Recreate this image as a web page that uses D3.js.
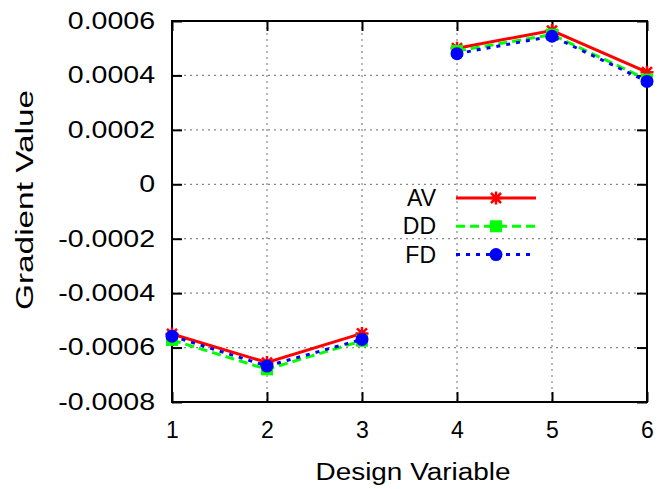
<!DOCTYPE html>
<html>
<head>
<meta charset="utf-8">
<script src="https://d3js.org/d3.v7.min.js"></script>
<style>
  body { margin: 0; background: #fff; }
  svg { display: block; font-family: "Liberation Sans", Arial, sans-serif; }
  svg text { font-family: "Liberation Sans", Arial, sans-serif; font-size: 23px; fill: #000; }
</style>
</head>
<body>
<svg id="chart" width="661" height="489"></svg>
<script>
// data (null = gap between variable 3 and 4)
var designVars = [1, 2, 3, 3.5, 4, 5, 6];
var avValues = [-0.00055, -0.000655, -0.000548, null, 0.0005, 0.000565, 0.000412];
var ddValues = [-0.000572, -0.00068, -0.000575, null, 0.00049, 0.00055, 0.000385];
var fdValues = [-0.000558, -0.000668, -0.00057, null, 0.00048, 0.000544, 0.000378];
var xTicks = [1, 2, 3, 4, 5, 6];
var yTicks = [-0.0008, -0.0006, -0.0004, -0.0002, 0, 0.0002, 0.0004, 0.0006];
var seriesNames = ["AV", "DD", "FD"];

var svg = d3.select("#chart"),
    margin = { top: 21, right: 14, bottom: 87, left: 172 },
    width = +svg.attr("width") - margin.left - margin.right,
    height = +svg.attr("height") - margin.top - margin.bottom;

var x = d3.scaleLinear().domain([1, 6]).range([0, width]);
var y = d3.scaleLinear().domain([-0.0008, 0.0006]).range([height, 0]);

var g = svg.append("g").attr("transform", "translate(" + margin.left + "," + margin.top + ")");

// grid
g.append("g").selectAll("line")
    .data(xTicks.slice(1, -1))
    .enter().append("line")
    .attr("x1", function (d) { return x(d); })
    .attr("x2", function (d) { return x(d); })
    .attr("y1", 0).attr("y2", height)
    .attr("stroke", "#888").attr("stroke-width", 1.2)
    .attr("stroke-dasharray", "2,4");

g.append("g").selectAll("line")
    .data(yTicks.slice(1, -1))
    .enter().append("line")
    .attr("x1", 0).attr("x2", width)
    .attr("y1", function (d) { return y(d); })
    .attr("y2", function (d) { return y(d); })
    .attr("stroke", "#888").attr("stroke-width", 1.2)
    .attr("stroke-dasharray", "2,4");

// axes (inward ticks, gnuplot style)
var fmt = function (d) { return d === 0 ? "0" : d3.format(".4f")(d).replace("−", "-"); };

var yAxis = g.append("g")
    .call(d3.axisLeft(y).tickValues(yTicks).tickSize(-10).tickPadding(17).tickFormat(fmt));
var yAxisR = g.append("g").attr("transform", "translate(" + width + ",0)")
    .call(d3.axisRight(y).tickValues(yTicks).tickSize(-10).tickFormat(""));
var xAxis = g.append("g").attr("transform", "translate(0," + height + ")")
    .call(d3.axisBottom(x).tickValues(xTicks).tickSize(-10).tickPadding(20).tickFormat(d3.format("d")));
var xAxisT = g.append("g")
    .call(d3.axisTop(x).tickValues(xTicks).tickSize(-10).tickFormat(""));

[yAxis, yAxisR, xAxis, xAxisT].forEach(function (a) {
    a.attr("font-size", null).attr("font-family", null);
    a.select(".domain").remove();
    a.selectAll(".tick line").attr("stroke", "#000").attr("stroke-width", 2);
    a.selectAll("text").style("font-size", "23px").attr("fill", "#000");
});

// y tick labels are a bit wider in the original
yAxis.selectAll(".tick text").each(function () {
    var w = this.getComputedTextLength();
    d3.select(this).attr("textLength", w * 1.24).attr("lengthAdjust", "spacingAndGlyphs");
});

g.append("rect")
    .attr("width", width).attr("height", height)
    .attr("fill", "none").attr("stroke", "#000").attr("stroke-width", 2);

// axis titles (the original is stretched along the text direction)
svg.append("text")
    .attr("x", 413).attr("y", 480)
    .attr("text-anchor", "middle")
    .attr("textLength", 195).attr("lengthAdjust", "spacingAndGlyphs")
    .text("Design Variable");
svg.append("text")
    .attr("transform", "translate(33,200) rotate(-90)")
    .attr("text-anchor", "middle")
    .attr("textLength", 220).attr("lengthAdjust", "spacingAndGlyphs")
    .text("Gradient Value");

// series
var series = [
    { name: "AV", values: avValues, color: "#ff0000", dash: null, marker: "star" },
    { name: "DD", values: ddValues, color: "#00ff00", dash: "9,5", marker: "square" },
    { name: "FD", values: fdValues, color: "#0000ff", dash: "4,6", marker: "circle" }
];

var line = d3.line()
    .defined(function (d) { return d.v !== null; })
    .x(function (d) { return x(d.x); })
    .y(function (d) { return y(d.v); });

function drawMarker(sel, type, color) {
    if (type === "star") {
        sel.append("path")
            .attr("d", "M-6.5,0H6.5M0,-6.5V6.5M-5,-5L5,5M-5,5L5,-5")
            .attr("stroke", color).attr("stroke-width", 2.5).attr("fill", "none");
    } else if (type === "square") {
        sel.append("rect").attr("x", -6).attr("y", -6).attr("width", 12).attr("height", 12)
            .attr("fill", color);
    } else {
        sel.append("circle").attr("r", 6.5).attr("fill", color);
    }
}

series.forEach(function (s) {
    var pts = designVars.map(function (d, i) { return { x: d, v: s.values[i] }; });
    g.append("path")
        .datum(pts)
        .attr("d", line)
        .attr("fill", "none")
        .attr("stroke", s.color)
        .attr("stroke-width", 3)
        .attr("stroke-dasharray", s.dash);
    pts.filter(function (p) { return p.v !== null; }).forEach(function (p) {
        var m = g.append("g").attr("transform", "translate(" + x(p.x) + "," + y(p.v) + ")");
        drawMarker(m, s.marker, s.color);
    });
});

// legend
var legend = svg.append("g");
series.forEach(function (s, i) {
    var ly = 198 + i * 28.3;
    legend.append("text")
        .attr("x", 436).attr("y", ly + 8)
        .attr("text-anchor", "end")
        .text(s.name);
    legend.append("line")
        .attr("x1", 456).attr("x2", 536).attr("y1", ly).attr("y2", ly)
        .attr("stroke", s.color).attr("stroke-width", 3)
        .attr("stroke-dasharray", s.dash);
    var m = legend.append("g").attr("transform", "translate(496," + ly + ")");
    drawMarker(m, s.marker, s.color);
});
</script>
</body>
</html>
